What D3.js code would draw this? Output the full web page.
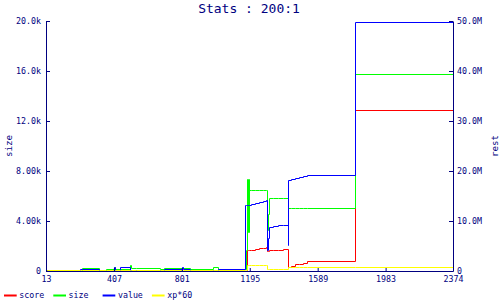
<!DOCTYPE html>
<html>
<head>
<meta charset="utf-8">
<script src="https://cdn.jsdelivr.net/npm/d3@7"></script>
<style>
    body { margin: 0; background: #fff; }
    svg { display: block; }
</style>
</head>
<body>
<div id="chart"></div>
<script>
// step points
const levels = [13, 20, 208, 220, 319, 359, 406, 412, 440, 499, 504, 537, 673, 696, 800, 806, 851, 982, 1009,
    1169, 1173, 1177, 1181, 1185, 1189, 1193, 1200, 1223, 1247, 1270, 1287,
    1295, 1300, 1306, 1328, 1357, 1386, 1414,
    1417, 1432, 1456, 1479, 1502, 1528, 1804, 2374];
// right axis, millions
const score = [0, 0, 0, 0, 0, 0, 0, 0, 0, 0, 0, 0, 0, 0, 0, 0, 0, 0, 0,
    0, 0, 4.2, 4.2, 4.2, 4.2, 4.2, 4.3, 4.4, 4.52, 4.64, 4.74,
    4.0, 4.0, 4.2, 4.2, 4.3, 4.46, 4.46,
    0.86, 1.06, 1.34, 1.46, 1.66, 1.94, 32.2, 32.2];
// left axis
const size = [80, 0, 0, 240, 0, 160, 320, 160, 160, 480, 240, 240, 160, 240, 240, 240, 160, 320, 160,
    160, 1650, 7360, 3140, 7360, 3140, 6480, 6480, 6480, 6480, 6480, 6480,
    3300, 4560, 5816, 5816, 5816, 5816, 5816,
    5016, 5016, 5016, 5016, 5016, 5016, 15760, 15760];
// right axis, millions
const value = [0.2, 0.2, 0.4, 0.4, 0, 0, 0.8, 0.2, 0.8, 0.2, 0.2, 0.2, 0.2, 0.4, 0.8, 0.4, 0.2, 0.2, 0.4,
    13.2, 13.2, 13.2, 13.2, 13.2, 13.2, 13.2, 13.4, 13.6, 13.8, 14.0, 14.2,
    4.2, 6.6, 8.86, 9.0, 9.14, 9.26, 5.2,
    18.2, 18.4, 18.66, 18.86, 19.06, 19.26, 49.7, 49.7];
// right axis, millions
const xp60 = [0.2, 0.2, 0.2, 0.2, 0.2, 0.2, 0.2, 0.2, 0.2, 0.2, 0.2, 0.2, 0.2, 0.2, 0.2, 0.2, 0.2, 0.2, 0.2,
    0.2, 0.2, 1.2, 1.2, 1.2, 1.2, 1.2, 1.2, 1.2, 1.2, 1.2, 1.2,
    0.34, 0.34, 0.34, 0.34, 0.34, 0.34, 0.34,
    0.86, 0.86, 0.86, 0.86, 0.86, 0.86, 0.86, 0.86];

const xTicks = [13, 407, 801, 1195, 1589, 1983, 2374];
const sizeTicks = [0, 4000, 8000, 12000, 16000, 20000];
const sizeTickLabels = ['0', '4.00k', '8.00k', '12.0k', '16.0k', '20.0k'];
const restTicks = [0, 10, 20, 30, 40, 50];
const restTickLabels = ['0', '10.0M', '20.0M', '30.0M', '40.0M', '50.0M'];

const seriesNames = ['score', 'size', 'value', 'xp*60'];
const seriesColors = ['#ff0000', '#00ff00', '#0000ff', '#ffff00'];

const width = 500,
    height = 300,
    margin = { top: 21, right: 47, bottom: 29, left: 46 },
    ink = '#000080',
    font = '"DejaVu Sans Mono", "Liberation Mono", monospace';

const rows = levels.map((l, i) => ({
    level: l, score: score[i], size: size[i], value: value[i], xp60: xp60[i]
}));

const svg = d3.select('#chart').append('svg')
    .attr('width', width)
    .attr('height', height);

const x = d3.scaleLinear()
    .domain([13, 2374])
    .range([margin.left, width - margin.right]);
const ySize = d3.scaleLinear()
    .domain([0, 20000])
    .range([height - margin.bottom, margin.top]);
const yRest = d3.scaleLinear()
    .domain([0, 50])
    .range([height - margin.bottom, margin.top]);

// snap to pixel centres so the steps stay one pixel wide
const lineFor = (key, scale) => d3.line()
    .x(d => Math.round(x(d.level)) + 0.5)
    .y(d => Math.round(scale(d[key])) + 0.5)
    .curve(d3.curveStepAfter);

const series = [
    { key: 'score', scale: yRest },
    { key: 'size', scale: ySize },
    { key: 'value', scale: yRest },
    { key: 'xp60', scale: yRest }
];

const g = svg.append('g').attr('class', 'lines');
series.forEach((s, i) => {
    g.append('path')
        .attr('d', lineFor(s.key, s.scale)(rows))
        .attr('fill', 'none')
        .attr('stroke', seriesColors[i])
        .attr('stroke-width', 1);
});

// axes
const styleAxis = sel => {
    sel.attr('color', ink)
        .attr('font-family', font)
        .attr('font-size', 8.3);
    sel.selectAll('text').attr('fill', ink);
};

svg.append('g')
    .attr('transform', 'translate(' + margin.left + ',0)')
    .call(d3.axisLeft(ySize).tickValues(sizeTicks)
        .tickFormat((d, i) => sizeTickLabels[i])
        .tickSizeInner(-4).tickSizeOuter(0).tickPadding(5))
    .call(styleAxis);

svg.append('g')
    .attr('transform', 'translate(' + (width - margin.right) + ',0)')
    .call(d3.axisRight(yRest).tickValues(restTicks)
        .tickFormat((d, i) => restTickLabels[i])
        .tickSizeInner(-4).tickSizeOuter(0).tickPadding(4))
    .call(styleAxis);

svg.append('g')
    .attr('transform', 'translate(0,' + (height - margin.bottom) + ')')
    .call(d3.axisBottom(x).tickValues(xTicks)
        .tickFormat(d3.format('d'))
        .tickSizeInner(-3).tickSizeOuter(0).tickPadding(5))
    .call(styleAxis);

// title and axis names
svg.append('text')
    .attr('x', 249)
    .attr('y', 13)
    .attr('text-anchor', 'middle')
    .attr('font-family', font)
    .attr('font-size', 13)
    .attr('fill', ink)
    .text('Stats : 200:1');

svg.append('text')
    .attr('transform', 'translate(12,146) rotate(-90)')
    .attr('text-anchor', 'middle')
    .attr('font-family', font)
    .attr('font-size', 9.2)
    .attr('fill', ink)
    .text('size');

svg.append('text')
    .attr('transform', 'translate(498,146) rotate(-90)')
    .attr('text-anchor', 'middle')
    .attr('font-family', font)
    .attr('font-size', 9.2)
    .attr('fill', ink)
    .text('rest');

// legend
const legend = svg.append('g').attr('class', 'legend');
seriesNames.forEach((name, i) => {
    const x0 = 4 + i * 49.3;
    legend.append('line')
        .attr('x1', x0).attr('x2', x0 + 12.7)
        .attr('y1', 295.5).attr('y2', 295.5)
        .attr('stroke', seriesColors[i])
        .attr('stroke-width', 2);
    legend.append('text')
        .attr('x', x0 + 15.3)
        .attr('y', 298.3)
        .attr('font-family', font)
        .attr('font-size', 8.3)
        .attr('fill', ink)
        .text(name);
});
</script>
</body>
</html>
